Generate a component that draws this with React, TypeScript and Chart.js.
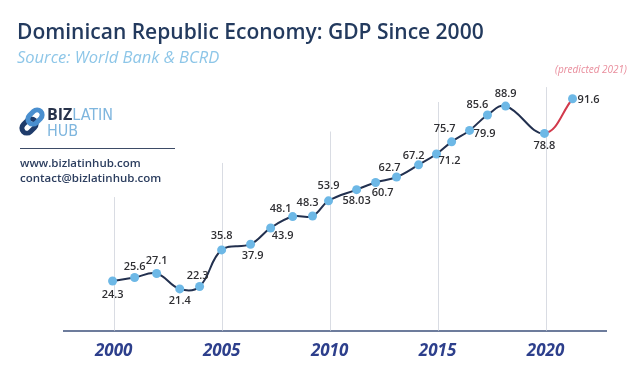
import React, { useEffect, useRef } from 'react';
import { Chart, registerables } from 'chart.js';

Chart.register(...registerables);

// ---- data ----
const years = [2000, 2001, 2002, 2003, 2004, 2005, 2006, 2007, 2008, 2009, 2010, 2011, 2012, 2013, 2014, 2015, 2016, 2017, 2018, 2019, 2020, 2021];
const gdpBillions = [24.3, 25.6, 27.1, 21.4, 22.3, 35.8, 37.9, 43.9, 48.1, 48.3, 53.9, 58.03, 60.7, 62.7, 67.2, 71.2, 75.7, 79.9, 85.6, 88.9, 78.8, 91.6];
const gdpLabels = ['24.3', '25.6', '27.1', '21.4', '22.3', '35.8', '37.9', '43.9', '48.1', '48.3', '53.9', '58.03', '60.7', '62.7', '67.2', '71.2', '75.7', '79.9', '85.6', '88.9', '78.8', '91.6'];
// where along the year axis each point is drawn in the picture
const drawnYear = [1999.95, 2000.97, 2001.99, 2003.06, 2003.98, 2005.0, 2006.34, 2007.27, 2008.29, 2009.21, 2009.95, 2011.25, 2012.13, 2013.1, 2014.12, 2014.95, 2015.65, 2016.48, 2017.31, 2018.15, 2019.95, 2021.25];
const tickYears = [2000, 2005, 2010, 2015, 2020];

// ---- styles ----
const FONT = "'Open Sans', 'Noto Sans', sans-serif";
const NAVY = '#233a5e';
const LINE = '#22304f';
const RED = '#d23a4c';
const DOT = '#6db8e6';
const gridTopValue = [55.3, 67.9, 79.5, 90.4, 95.9];
const labelOffset: [number, number][] = [
  [0, 14], [0, -11], [0, -13], [0, 12], [-2, -11], [0, -14], [2, 12], [12, 8], [-12, -8], [-5, -13],
  [0, -15], [0, 11], [7, 10], [-7, -9], [-5, -9], [13, 7], [-7, -13], [15, 3], [-10, -10], [0, -12],
  [0, 12], [16, 1],
];

const gridPlugin = {
  id: 'partialGrid',
  beforeDatasetsDraw(chart: any) {
    const { ctx, scales, chartArea } = chart;
    ctx.save();
    ctx.strokeStyle = '#d9dce3';
    ctx.lineWidth = 1;
    tickYears.forEach((yr, i) => {
      const x = Math.round(scales.x.getPixelForValue(yr)) + 0.5;
      const top = scales.y.getPixelForValue(gridTopValue[i]);
      ctx.beginPath();
      ctx.moveTo(x, top);
      ctx.lineTo(x, chartArea.bottom);
      ctx.stroke();
    });
    ctx.restore();
  },
};

const labelPlugin = {
  id: 'pointLabels',
  afterDatasetsDraw(chart: any) {
    const { ctx } = chart;
    const meta = chart.getDatasetMeta(0);
    ctx.save();
    ctx.font = `600 11px ${FONT}`;
    ctx.fillStyle = '#2f2f33';
    ctx.textAlign = 'center';
    ctx.textBaseline = 'middle';
    meta.data.forEach((pt: any, i: number) => {
      const [dx, dy] = labelOffset[i];
      ctx.fillText(gdpLabels[i], pt.x + dx, pt.y + dy);
    });
    ctx.restore();
  },
};

function drawLogo(ctx: CanvasRenderingContext2D) {
  ctx.save();
  const link = (cx: number, cy: number, color: string) => {
    ctx.save();
    ctx.translate(cx, cy);
    ctx.rotate(-Math.PI / 4);
    ctx.strokeStyle = color;
    ctx.lineWidth = 5;
    ctx.beginPath();
    (ctx as any).roundRect(-8, -5, 16, 10, 5);
    ctx.stroke();
    ctx.restore();
  };
  link(29, 126, '#1f3c6b');
  link(35, 117, '#4a8fcf');
  ctx.textBaseline = 'alphabetic';
  ctx.textAlign = 'left';
  ctx.font = `700 16px ${FONT}`;
  ctx.fillStyle = '#27324a';
  ctx.fillText('BIZ', 47, 120);
  const w = ctx.measureText('BIZ').width;
  ctx.font = `400 16px 'Liberation Sans Narrow', 'DejaVu Sans Condensed', ${FONT}`;
  ctx.fillStyle = '#7fb6de';
  ctx.fillText('LATIN', 47 + w, 120);
  ctx.fillText('HUB', 47, 136);
  ctx.restore();
}

const textPlugin = {
  id: 'texts',
  afterDraw(chart: any) {
    const { ctx } = chart;
    ctx.save();
    ctx.textAlign = 'left';
    ctx.textBaseline = 'alphabetic';
    ctx.font = `600 21px ${FONT}`;
    ctx.fillStyle = NAVY;
    ctx.fillText('Dominican Republic Economy: GDP Since 2000', 17, 39);
    ctx.font = `italic 400 16.5px ${FONT}`;
    ctx.fillStyle = '#8dc6e8';
    ctx.fillText('Source: World Bank & BCRD', 17, 63);
    drawLogo(ctx);
    ctx.strokeStyle = '#3d4b66';
    ctx.lineWidth = 1;
    ctx.beginPath();
    ctx.moveTo(20, 148.5);
    ctx.lineTo(175, 148.5);
    ctx.stroke();
    ctx.font = `600 11.5px ${FONT}`;
    ctx.fillStyle = '#2c3e5f';
    ctx.fillText('www.bizlatinhub.com', 20, 167);
    ctx.fillText('contact@bizlatinhub.com', 20, 182);
    ctx.font = `italic 400 10px ${FONT}`;
    ctx.fillStyle = '#e98d9c';
    ctx.textAlign = 'center';
    ctx.fillText('(predicted 2021)', 591, 73);
    ctx.restore();
  },
};

export default function App() {
  const canvasRef = useRef<HTMLCanvasElement | null>(null);

  useEffect(() => {
    if (!canvasRef.current) return;
    const last = gdpBillions.length - 1;
    const chart = new Chart(canvasRef.current, {
      type: 'line',
      data: {
        datasets: [
          {
            data: gdpBillions.map((v, i) => ({ x: drawnYear[i], y: v })),
            borderColor: LINE,
            borderWidth: 2,
            tension: 0.4,
            pointRadius: 4.5,
            pointBackgroundColor: DOT,
            pointBorderWidth: 0,
            segment: {
              borderColor: (c: any) => (c.p1DataIndex === last ? RED : LINE),
            },
          },
        ],
      },
      options: {
        responsive: false,
        animation: false,
        layout: { padding: { left: 64, right: 34, top: 76, bottom: 9 } },
        plugins: { legend: { display: false }, tooltip: { enabled: false } },
        scales: {
          x: {
            type: 'linear',
            min: 1997.7,
            max: 2022.8,
            afterBuildTicks: (scale: any) => {
              scale.ticks = tickYears.map((v) => ({ value: v }));
            },
            grid: { display: false, drawTicks: false },
            border: { display: true, color: '#6d7c9c', width: 2 },
            ticks: {
              padding: 10,
              color: '#2d3f8c',
              font: { family: FONT, size: 17, style: 'italic', weight: 'bold' },
              callback: (v: any) => String(v),
              maxRotation: 0,
            },
          },
          y: { display: false, min: 6, max: 100 },
        },
      },
      plugins: [gridPlugin, labelPlugin, textPlugin],
    });
    return () => chart.destroy();
  }, []);

  return (
    <div style={{ position: 'absolute', left: 0, top: 0, width: 640, height: 380, background: '#fff' }}>
      <canvas ref={canvasRef} width={640} height={380} />
    </div>
  );
}
